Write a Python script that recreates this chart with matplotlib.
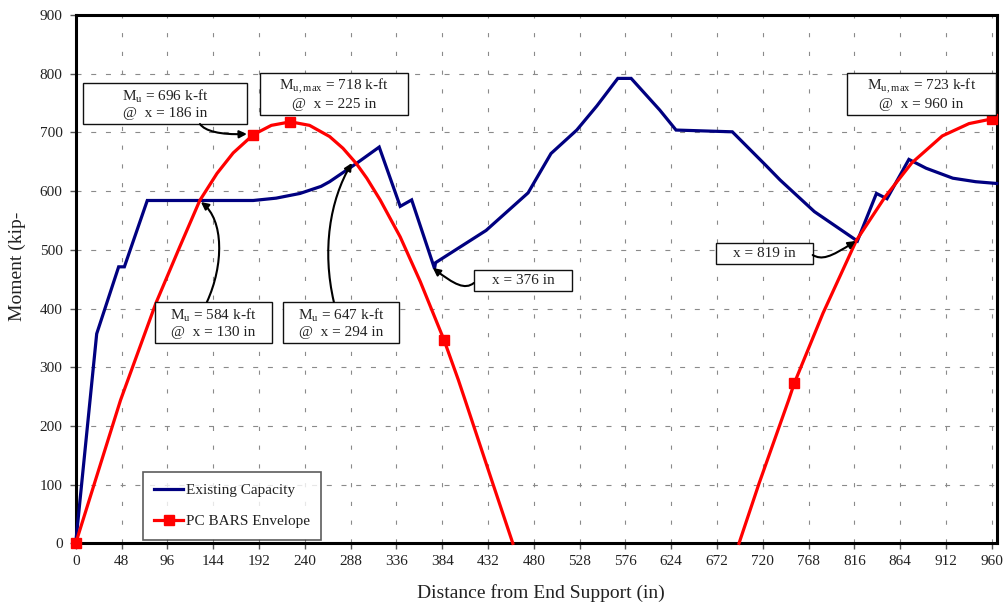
import numpy as np
import matplotlib
matplotlib.use("Agg")
import matplotlib.pyplot as plt
from matplotlib.patches import Rectangle, FancyArrowPatch
from matplotlib.path import Path

plt.rcParams['font.family'] = ['Liberation Serif', 'DejaVu Serif']
plt.rcParams['mathtext.fontset'] = 'custom'
plt.rcParams['mathtext.rm'] = 'Liberation Serif'
plt.rcParams['lines.scale_dashes'] = False

# Existing flexural capacity along the span (kip-ft)
cap_x = [0, 22, 45, 51, 75, 130, 186, 210, 235, 257, 266, 294, 306, 318, 340, 352,
         376, 377, 430, 474, 498, 525, 546, 568, 582, 612, 629, 688, 723, 738, 774,
         819, 839, 850, 873, 891, 919, 943, 965]
cap_y = [0, 357, 471, 471, 584, 584, 584, 588, 596, 608, 616, 647, 661, 675, 574, 585,
         468, 478, 533, 597, 664, 704, 745, 792, 792, 738, 704, 701, 644, 619, 565,
         515, 596, 587, 654, 639, 622, 616, 613]

# PC BARS moment envelope, first positive region (kip-ft)
env1_x = [0, 36, 47, 84, 109, 130, 148, 165, 186, 205, 225, 245, 266, 280, 294,
          305, 319, 340, 361, 386, 401, 408, 437, 458]
env1_y = [0, 187, 244, 409, 505, 584, 630, 665, 696, 712, 718, 712, 693, 673, 647,
          622, 585, 522, 446, 346, 278, 244, 102, 0]
env1_marked = [0, 186, 225, 386]

# PC BARS moment envelope, second positive region (kip-ft)
env2_x = [695, 716, 747, 753, 783, 818, 848, 876, 908, 936, 960]
env2_y = [0, 102, 244, 273, 392, 516, 590, 648, 694, 715, 723]
env2_marked = [753, 960]

x_ticks = list(range(0, 961, 48))
y_ticks = list(range(0, 901, 100))

W, H = 1005, 603
fig = plt.figure(figsize=(W / 100, H / 100), dpi=100)
ax = fig.add_axes([75.7 / W, 59.7 / H, 921 / W, 528.3 / H])
ax.set_xlim(0, 965)
ax.set_ylim(0, 900)
ax.set_xticks(x_ticks)
ax.set_yticks(y_ticks)

# dashed grid
ax.set_axisbelow(True)
ax.xaxis.grid(True, color='#8a8a8a', lw=0.8, linestyle=(0, (3, 10.5)))
ax.yaxis.grid(True, color='#8a8a8a', lw=0.8, linestyle=(0, (3.6, 7)))

for s in ax.spines.values():
    s.set_linewidth(2.2)
    s.set_color('black')
ax.tick_params(axis='both', direction='out', length=4.5, width=1.0,
               labelsize=11, labelcolor='#222222', color='#555555')
ax.tick_params(axis='x', pad=4)
ax.tick_params(axis='y', pad=5)

ax.plot(cap_x, cap_y, color='#000080', lw=2.3, zorder=3, clip_on=False,
        label='Existing Capacity', solid_joinstyle='miter')

env_x = env1_x + [np.nan] + env2_x
env_y = env1_y + [np.nan] + env2_y
marks = [env_x.index(v) for v in env1_marked + env2_marked]
ax.plot(env_x, env_y, color='#ff0000', lw=2.3, zorder=4, clip_on=False,
        marker='s', markersize=6.5, markevery=marks, label='PC BARS Envelope')


def note(x0, x1, y0, y1, text):
    ax.add_patch(Rectangle((x0, y0), x1 - x0, y1 - y0, facecolor='white',
                           edgecolor='#111111', lw=1.0, zorder=6))
    ax.text((x0 + x1) / 2, (y0 + y1) / 2, text, ha='center', va='center',
            fontsize=11, color='#222222', zorder=7, linespacing=1.2)


def arrow(pts):
    codes = [Path.MOVETO, Path.CURVE4, Path.CURVE4, Path.CURVE4]
    ax.add_patch(FancyArrowPatch(path=Path(pts, codes), arrowstyle='-|>',
                                 mutation_scale=11, lw=1.5, color='black',
                                 shrinkA=0, shrinkB=0, zorder=6))


note(7.7, 179.4, 714.3, 784.2, 'M$_{\\mathregular{u}}$ = 696 k-ft\n@  x = 186 in')
note(193.1, 348.4, 730.4, 802.0, 'M$_{\\mathregular{u,max}}$ = 718 k-ft\n@  x = 225 in')
note(808.1, 964.6, 730.4, 802.0, 'M$_{\\mathregular{u,max}}$ = 723 k-ft\n@  x = 960 in')
note(83.1, 205.3, 341.7, 411.6, 'M$_{\\mathregular{u}}$ = 584 k-ft\n@  x = 130 in')
note(216.8, 338.9, 341.7, 411.6, 'M$_{\\mathregular{u}}$ = 647 k-ft\n@  x = 294 in')
note(417.5, 520.1, 430.3, 465.6, 'x = 376 in')
note(670.6, 772.5, 475.3, 511.1, 'x = 819 in')

arrow([(130.2, 714.3), (135.4, 702.4), (151.1, 695.6), (179.4, 697.3)])
arrow([(137.5, 411.1), (155.3, 474.1), (155.3, 550.8), (131.2, 581.4)])
arrow([(270.5, 411.1), (257.9, 499.7), (266.3, 584.8), (289.4, 647.9)])
arrow([(417.2, 443.5), (407.8, 431.6), (397.2, 440.1), (374.2, 469.1)])
arrow([(772.2, 491.1), (781.6, 482.6), (790.0, 486.0), (817.2, 515.0)])

leg = ax.legend(loc='upper left', bbox_to_anchor=(143 / W, 1 - 472 / H),
                bbox_transform=fig.transFigure, borderaxespad=0, fontsize=11,
                frameon=True, fancybox=False, handlelength=1.9, handletextpad=0.15,
                labelspacing=1.15, borderpad=0.75)
leg.get_frame().set_edgecolor('#333333')
leg.get_frame().set_linewidth(1.2)
for t in leg.get_texts():
    t.set_color('#222222')

fig.text(541 / W, 1 - 592.7 / H, 'Distance from End Support (in)', ha='center',
         va='center', fontsize=14, color='#222222')
fig.text(17.5 / W, 1 - 266 / H, 'Moment (kip-', ha='center', va='center',
         rotation=90, fontsize=14, color='#222222')

fig.savefig('out.png', dpi=100)
